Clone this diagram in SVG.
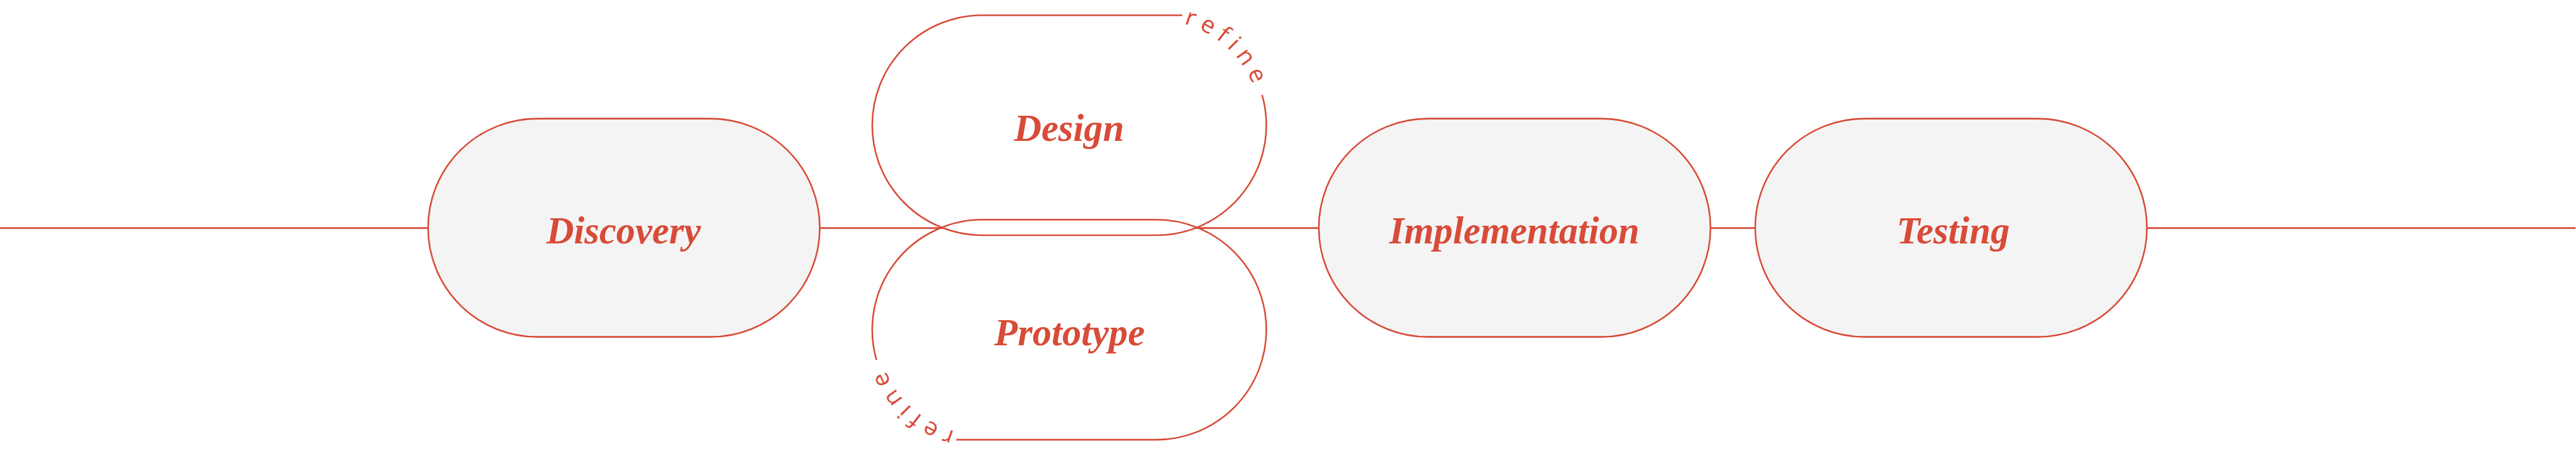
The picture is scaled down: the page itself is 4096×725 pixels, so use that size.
<svg xmlns="http://www.w3.org/2000/svg" width="4096" height="725" viewBox="0 0 4096 725">
<style>
.conn{stroke:#d84b38;stroke-width:3;fill:none}
.box{fill:#f4f4f4;stroke:#d84b38;stroke-width:2.7}
.ol{fill:none;stroke:#d84b38;stroke-width:2.7}
.lbl{font-family:"Liberation Serif","Times New Roman",serif;font-style:italic;font-weight:bold;font-size:64px;fill:#d84b38;text-anchor:middle}
.ref{font-family:"Open Sans","Lato",sans-serif;font-weight:400;font-size:40px;letter-spacing:10px;fill:#d84b38;text-anchor:middle}
</style>
<defs>
<path id="arcD" d="M1963.99,35.71 A176,176 0 0 1 2110.27,167.42"/>
<path id="arcP" d="M1963.99,378.71 A176,176 0 0 1 2110.27,510.42"/>
</defs>
<rect width="4096" height="725" fill="#ffffff"/>
<g transform="scale(0.948)">
<g id="connectors">
<line class="conn" x1="0" y1="382.5" x2="4320" y2="382.5"/>
</g>
<g id="discovery">
<rect class="box" x="718" y="199" width="657" height="366" rx="183" ry="183"/>
<text class="lbl" x="1046" y="408">Discovery</text>
</g>
<g id="design">
<rect x="1463" y="25.5" width="661" height="369" rx="184.5" ry="184.5" fill="#ffffff"/>
<path class="ol" d="M1983,25.5 H1647.5 A184.5,184.5 0 0 0 1647.5,394.5 H1939.5 A184.5,184.5 0 0 0 2116.85,159.15"/>
<text class="ref"><textPath href="#arcD" startOffset="51%">refine</textPath></text>
<text class="lbl" x="1793" y="236">Design</text>
</g>
<g id="prototype">
<g transform="rotate(180 1793.5 553)">
<path class="ol" d="M1983,368.5 H1647.5 A184.5,184.5 0 0 0 1647.5,737.5 H1939.5 A184.5,184.5 0 0 0 2116.85,502.15"/>
<text class="ref"><textPath href="#arcP" startOffset="51%">refine</textPath></text>
</g>
<text class="lbl" x="1794" y="579">Prototype</text>
</g>
<g id="implementation">
<rect class="box" x="2212" y="199" width="657" height="366" rx="183" ry="183"/>
<text class="lbl" x="2540" y="408">Implementation</text>
</g>
<g id="testing">
<rect class="box" x="2944" y="199" width="657" height="366" rx="183" ry="183"/>
<text class="lbl" x="3276" y="408">Testing</text>
</g>
</g>
</svg>
